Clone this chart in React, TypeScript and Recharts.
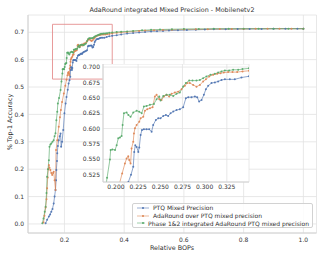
import {
  CartesianGrid,
  Line,
  LineChart,
  ReferenceArea,
  XAxis,
  YAxis,
} from "recharts";

// [relative BOPs, top-1 accuracy]
const ptqPoints: [number, number][] = [
  [0.137, 0.003], [0.142, 0.015], [0.148, 0.027], [0.152, 0.035], [0.156, 0.045],
  [0.16, 0.055], [0.164, 0.075], [0.167, 0.1], [0.17, 0.124], [0.172, 0.16],
  [0.173, 0.197], [0.175, 0.23], [0.176, 0.258], [0.178, 0.285], [0.181, 0.306],
  [0.184, 0.32], [0.187, 0.33], [0.189, 0.282], [0.192, 0.3], [0.196, 0.343],
  [0.2, 0.404], [0.204, 0.44], [0.207, 0.464], [0.211, 0.49], [0.214, 0.513],
  [0.217, 0.525], [0.2195, 0.5377], [0.2206, 0.562], [0.2218, 0.573], [0.2233, 0.57],
  [0.2252, 0.562], [0.2263, 0.5693], [0.2278, 0.5894], [0.2293, 0.5976], [0.2315, 0.5987],
  [0.2345, 0.5987], [0.2375, 0.5987], [0.2402, 0.5949], [0.242, 0.6058], [0.245, 0.614],
  [0.2477, 0.6167], [0.2503, 0.6167], [0.2533, 0.6205], [0.2563, 0.622], [0.2589, 0.6205],
  [0.2616, 0.6248], [0.2646, 0.6276], [0.2683, 0.63], [0.272, 0.6314], [0.2758, 0.6346],
  [0.2788, 0.6493], [0.2815, 0.651], [0.2852, 0.651], [0.289, 0.652], [0.2916, 0.651],
  [0.2938, 0.6439], [0.2965, 0.6466], [0.2991, 0.6548], [0.3014, 0.664], [0.304, 0.6695],
  [0.3077, 0.674], [0.3115, 0.675], [0.3152, 0.6766], [0.319, 0.679], [0.3228, 0.68],
  [0.3284, 0.68], [0.334, 0.68], [0.3415, 0.683], [0.35, 0.685], [0.36, 0.687],
  [0.375, 0.689], [0.39, 0.692], [0.41, 0.695], [0.43, 0.697], [0.45, 0.699],
  [0.47, 0.701], [0.49, 0.703], [0.51, 0.704], [0.53, 0.705], [0.55, 0.706],
  [0.58, 0.707], [0.61, 0.708], [0.64, 0.709], [0.67, 0.71], [0.7, 0.711],
  [0.74, 0.711], [0.78, 0.712], [0.82, 0.712], [0.86, 0.712], [0.9, 0.713],
  [0.94, 0.713], [0.98, 0.713], [1.0, 0.713],
];

const adaPoints: [number, number][] = [
  [0.13, 0.005], [0.133, 0.03], [0.137, 0.06], [0.14, 0.09], [0.142, 0.13],
  [0.144, 0.17], [0.146, 0.2], [0.148, 0.215], [0.15, 0.205], [0.153, 0.197],
  [0.156, 0.186], [0.159, 0.179], [0.162, 0.186], [0.164, 0.191], [0.167, 0.16],
  [0.17, 0.124], [0.172, 0.27], [0.176, 0.306], [0.181, 0.355], [0.185, 0.39],
  [0.188, 0.416], [0.192, 0.445], [0.198, 0.476], [0.203, 0.505], [0.207, 0.527],
  [0.2101, 0.5431], [0.212, 0.5513], [0.2139, 0.555], [0.215, 0.5486], [0.2165, 0.543],
  [0.2176, 0.5676], [0.2195, 0.5785], [0.2203, 0.592], [0.2214, 0.6003], [0.2233, 0.6058],
  [0.2263, 0.611], [0.2278, 0.6167], [0.2308, 0.619], [0.2327, 0.629], [0.2353, 0.6314],
  [0.2383, 0.633], [0.2413, 0.6346], [0.2439, 0.652], [0.2458, 0.6548], [0.2488, 0.6477],
  [0.2514, 0.6466], [0.2541, 0.652], [0.257, 0.6548], [0.26, 0.652], [0.2627, 0.6564],
  [0.2664, 0.6586], [0.2702, 0.66], [0.274, 0.664], [0.2777, 0.6695], [0.2803, 0.674],
  [0.2833, 0.674], [0.2871, 0.671], [0.2908, 0.668], [0.2946, 0.671], [0.2983, 0.6766],
  [0.3014, 0.68], [0.3051, 0.6847], [0.3096, 0.6875], [0.3141, 0.689], [0.3179, 0.69],
  [0.3216, 0.691], [0.3265, 0.6918], [0.3314, 0.6918], [0.3367, 0.6918], [0.3427, 0.693],
  [0.35, 0.694], [0.36, 0.696], [0.375, 0.698], [0.39, 0.699], [0.41, 0.701],
  [0.43, 0.703], [0.45, 0.705], [0.47, 0.706], [0.5, 0.707], [0.53, 0.708],
  [0.56, 0.709], [0.6, 0.71], [0.64, 0.711], [0.68, 0.711], [0.72, 0.712],
  [0.76, 0.712], [0.8, 0.712], [0.84, 0.713], [0.88, 0.713], [0.92, 0.713],
  [0.96, 0.713], [1.0, 0.713],
];

const phasePoints: [number, number][] = [
  [0.126, 0.003], [0.13, 0.02], [0.134, 0.045], [0.137, 0.063], [0.14, 0.113],
  [0.142, 0.172], [0.145, 0.2], [0.148, 0.233], [0.15, 0.282], [0.153, 0.29],
  [0.156, 0.294], [0.16, 0.3], [0.164, 0.306], [0.167, 0.32], [0.17, 0.331],
  [0.173, 0.379], [0.176, 0.41], [0.178, 0.44], [0.182, 0.46], [0.187, 0.489],
  [0.19, 0.52], [0.1932, 0.5497], [0.194, 0.565], [0.196, 0.566], [0.199, 0.565],
  [0.2008, 0.573], [0.2026, 0.584], [0.2045, 0.5856], [0.2064, 0.588], [0.2075, 0.6058],
  [0.209, 0.625], [0.212, 0.626], [0.214, 0.622], [0.2165, 0.619], [0.2195, 0.626],
  [0.2233, 0.629], [0.2263, 0.6275], [0.229, 0.625], [0.2315, 0.6357], [0.2345, 0.6368],
  [0.2383, 0.6385], [0.2428, 0.64], [0.2458, 0.6477], [0.2488, 0.652], [0.2503, 0.6455],
  [0.2533, 0.653], [0.257, 0.6548], [0.2608, 0.6548], [0.2646, 0.653], [0.2683, 0.6564],
  [0.272, 0.6586], [0.2758, 0.6684], [0.2788, 0.674], [0.2826, 0.678], [0.2863, 0.678],
  [0.2908, 0.678], [0.2946, 0.679], [0.2983, 0.682], [0.302, 0.6847], [0.3066, 0.6875],
  [0.3115, 0.689], [0.3152, 0.691], [0.319, 0.693], [0.3228, 0.6945], [0.3276, 0.6945],
  [0.3321, 0.6956], [0.3378, 0.6956], [0.3427, 0.6967], [0.35, 0.698], [0.36, 0.699],
  [0.375, 0.701], [0.39, 0.702], [0.41, 0.703], [0.43, 0.705], [0.46, 0.707],
  [0.49, 0.709], [0.52, 0.71], [0.56, 0.711], [0.6, 0.712], [0.65, 0.712],
  [0.7, 0.713], [0.75, 0.713], [0.8, 0.713], [0.85, 0.713], [0.9, 0.713],
  [0.95, 0.713], [1.0, 0.713],
];

const mainXTicks = [0.2, 0.4, 0.6, 0.8, 1.0];
const mainYTicks = [0, 0.1, 0.2, 0.3, 0.4, 0.5, 0.6, 0.7];
const insetXTicks = [0.2, 0.225, 0.25, 0.275, 0.3, 0.325];
const insetYTicks = [0.525, 0.55, 0.575, 0.6, 0.625, 0.65, 0.675, 0.7];

// zoomed window marked on the main axes
const zoomBox = { x1: 0.16, x2: 0.36, y1: 0.529, y2: 0.729 };

const FONT = "DejaVu Sans";
const TEXT = "#333";
const GRID = "#e2e2e2";
const EDGE = "#d2d2d2";

const series = [
  { name: "PTQ Mixed Precision", color: "#4c72b0", points: ptqPoints },
  { name: "AdaRound over PTQ mixed precision", color: "#dd8452", points: adaPoints },
  { name: "Phase 1&2 integrated AdaRound PTQ mixed precision", color: "#55a868", points: phasePoints },
].map((s) => ({ ...s, data: s.points.map(([x, y]) => ({ x, y })) }));

const tickStyle = { fontSize: 6, fill: TEXT, fontFamily: FONT };

function renderLines() {
  return series.map((s) => (
    <Line
      key={s.name}
      name={s.name}
      data={s.data}
      dataKey="y"
      type="linear"
      stroke={s.color}
      strokeWidth={0.8}
      strokeOpacity={0.8}
      dot={{ r: 1, fill: s.color, stroke: "none", fillOpacity: 0.9 }}
      activeDot={false}
      isAnimationActive={false}
    />
  ));
}

function LegendBox() {
  return (
    <div
      style={{
        position: "absolute",
        left: 132,
        top: 203,
        width: 181,
        height: 25,
        border: `1px solid ${EDGE}`,
        borderRadius: 2,
        background: "rgba(255,255,255,0.85)",
        padding: "0px 3px",
        fontSize: 6,
        boxSizing: "border-box",
      }}
    >
      {series.map((s) => (
        <div key={s.name} style={{ display: "flex", alignItems: "center", height: 7.7 }}>
          <svg width={14} height={6}>
            <line x1={1} x2={13} y1={3} y2={3} stroke={s.color} strokeWidth={0.8} strokeOpacity={0.7} />
            <circle cx={7} cy={3} r={1} fill={s.color} />
          </svg>
          <span style={{ marginLeft: 3, whiteSpace: "nowrap", lineHeight: "7px" }}>{s.name}</span>
        </div>
      ))}
    </div>
  );
}

function MainChart() {
  return (
    <LineChart width={324} height={259} margin={{ top: 15, right: 7.5, bottom: 0, left: 0 }}>
      <CartesianGrid stroke={GRID} strokeWidth={0.8} />
      <XAxis
        type="number"
        dataKey="x"
        domain={[0.078, 1.044]}
        ticks={mainXTicks}
        allowDataOverflow
        tickFormatter={(v: number) => v.toFixed(1)}
        tick={tickStyle}
        tickLine={false}
        tickSize={0}
        tickMargin={5}
        height={26}
        axisLine={{ stroke: EDGE }}
      />
      <XAxis
        xAxisId="top"
        orientation="top"
        type="number"
        domain={[0.078, 1.044]}
        tick={false}
        tickLine={false}
        height={0}
        axisLine={{ stroke: EDGE }}
      />
      <YAxis
        type="number"
        domain={[-0.033, 0.763]}
        ticks={mainYTicks}
        allowDataOverflow
        tickFormatter={(v: number) => v.toFixed(1)}
        tick={tickStyle}
        tickLine={false}
        tickSize={0}
        tickMargin={4}
        width={28}
        axisLine={{ stroke: EDGE }}
      />
      <YAxis
        yAxisId="right"
        orientation="right"
        type="number"
        domain={[0, 1]}
        tick={false}
        tickLine={false}
        width={0}
        axisLine={{ stroke: EDGE }}
      />
      <ReferenceArea
        x1={zoomBox.x1}
        x2={zoomBox.x2}
        y1={zoomBox.y1}
        y2={zoomBox.y2}
        fill="none"
        stroke="#e58f8f"
        strokeWidth={0.9}
      />
      {renderLines()}
    </LineChart>
  );
}

function InsetChart() {
  return (
    <LineChart width={180} height={130} margin={{ top: 0, right: 2, bottom: 0, left: 0 }}>
      <CartesianGrid stroke={GRID} strokeWidth={0.8} fill="#fff" />
      <XAxis
        type="number"
        dataKey="x"
        domain={[0.1854, 0.35]}
        ticks={insetXTicks}
        allowDataOverflow
        tickFormatter={(v: number) => v.toFixed(3)}
        tick={tickStyle}
        tickLine={false}
        tickSize={0}
        tickMargin={3}
        height={12}
        axisLine={{ stroke: EDGE }}
      />
      <XAxis
        xAxisId="top"
        orientation="top"
        type="number"
        domain={[0.1854, 0.35]}
        tick={false}
        tickLine={false}
        height={0}
        axisLine={{ stroke: EDGE }}
      />
      <YAxis
        type="number"
        domain={[0.513, 0.705]}
        ticks={insetYTicks}
        allowDataOverflow
        tickFormatter={(v: number) => v.toFixed(3)}
        tick={tickStyle}
        tickLine={false}
        tickSize={0}
        tickMargin={3}
        width={32}
        axisLine={{ stroke: EDGE }}
      />
      <YAxis
        yAxisId="right"
        orientation="right"
        type="number"
        domain={[0, 1]}
        tick={false}
        tickLine={false}
        width={0}
        axisLine={{ stroke: EDGE }}
      />
      {renderLines()}
    </LineChart>
  );
}

export default function App() {
  return (
    <div
      style={{
        position: "fixed",
        left: 0,
        top: 0,
        width: 324,
        height: 259,
        background: "#fff",
        fontFamily: FONT,
        color: TEXT,
      }}
    >
      <div style={{ position: "absolute", left: 0, top: 0 }}>
        <MainChart />
      </div>
      <div style={{ position: "absolute", left: 71, top: 64 }}>
        <InsetChart />
      </div>
      <LegendBox />
      <div
        style={{
          position: "absolute",
          left: 172,
          top: 10,
          transform: "translate(-50%, -50%)",
          fontSize: 6.4,
          whiteSpace: "nowrap",
        }}
      >
        AdaRound integrated Mixed Precision - Mobilenetv2
      </div>
      <div
        style={{
          position: "absolute",
          left: 172,
          top: 248,
          transform: "translate(-50%, -50%)",
          fontSize: 6.4,
          whiteSpace: "nowrap",
        }}
      >
        Relative BOPs
      </div>
      <div
        style={{
          position: "absolute",
          left: 10,
          top: 122,
          transform: "translate(-50%, -50%) rotate(-90deg)",
          fontSize: 6.4,
          whiteSpace: "nowrap",
        }}
      >
        % Top-1 Accuracy
      </div>
    </div>
  );
}
